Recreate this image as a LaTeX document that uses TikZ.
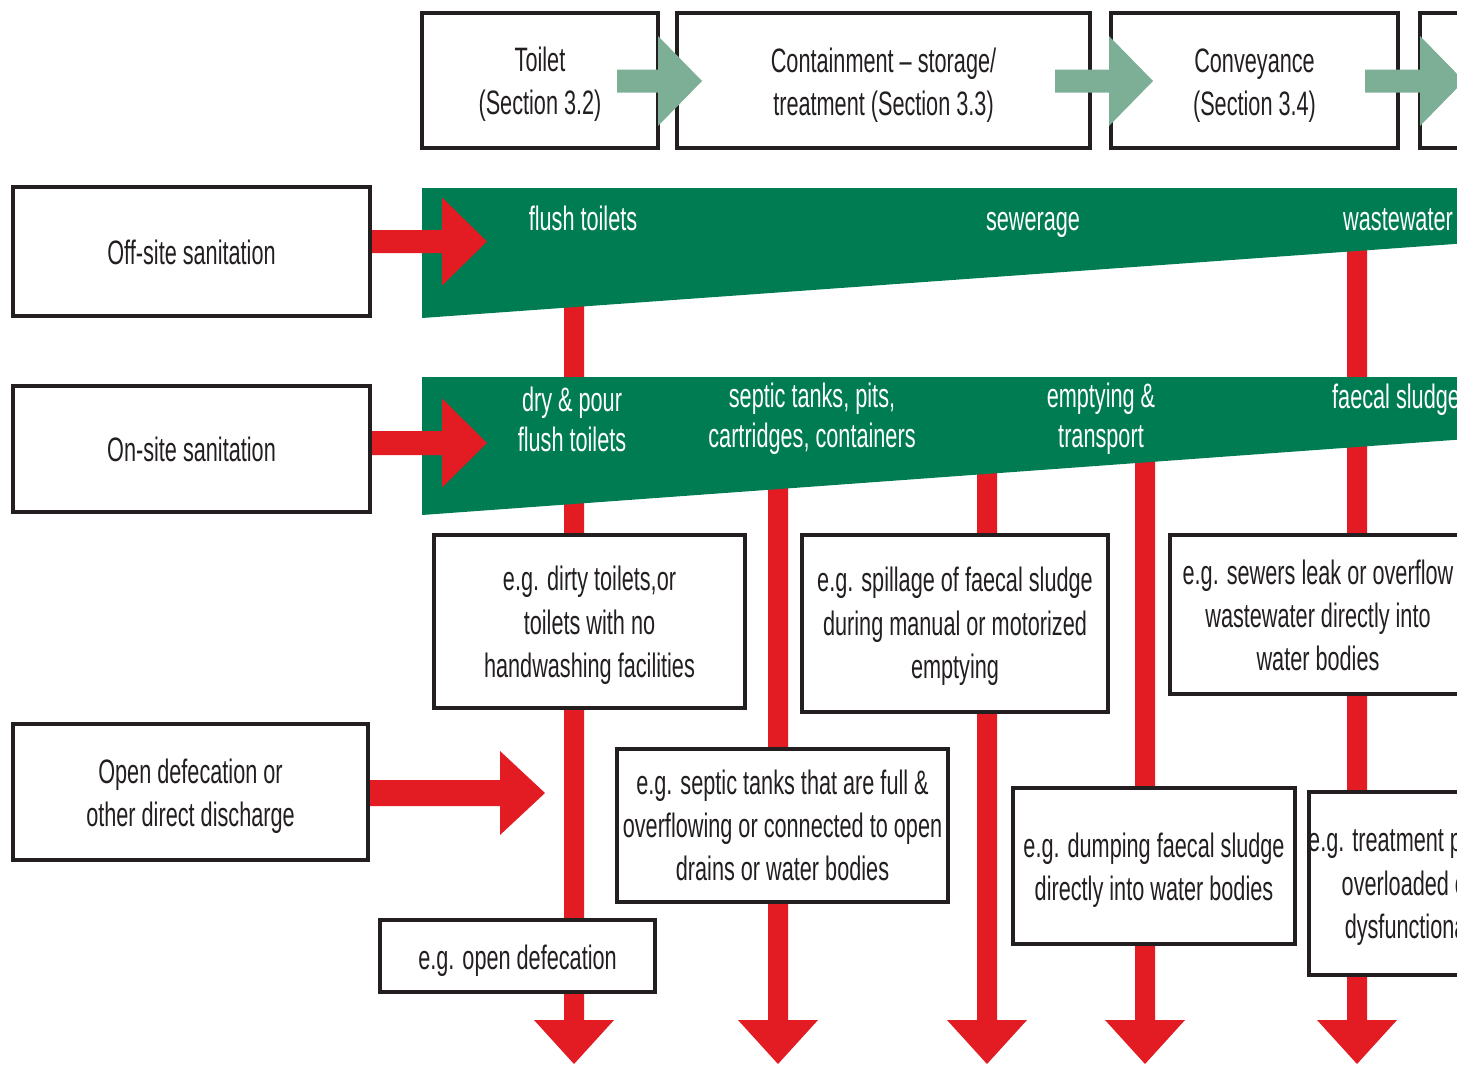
\documentclass[tikz,border=0pt]{standalone}
\usepackage{fontspec}
\setmainfont{Liberation Sans}[FakeStretch=0.64]
\usetikzlibrary{calc}
\definecolor{ink}{HTML}{231F20}
\definecolor{flowred}{HTML}{E31B23}
\definecolor{bandgreen}{HTML}{007C52}
\definecolor{stepgreen}{HTML}{7DAE96}

% block arrow pointing right: #1 tail, #2 tip (same height), #3 half shaft,
% #4 half head, #5 head length, #6 colour
\newcommand\rightflow[6]{%
  \fill[#6] ($(#1)+(0,-#3)$) -- ($(#2)+(-#5,-#3)$) -- ($(#2)+(-#5,-#4)$) -- (#2)
    -- ($(#2)+(-#5,#4)$) -- ($(#2)+(-#5,#3)$) -- ($(#1)+(0,#3)$) -- cycle;}
% block arrow pointing down: same arguments
\newcommand\downflow[6]{%
  \fill[#6] ($(#1)+(-#3,0)$) -- ($(#2)+(-#3,-#5)$) -- ($(#2)+(-#4,-#5)$) -- (#2)
    -- ($(#2)+(#4,-#5)$) -- ($(#2)+(#3,-#5)$) -- ($(#1)+(#3,0)$) -- cycle;}
% framed panel: #1 name, #2 centre, #3 width, #4 height, #5 text drop, #6 text
\newcommand\panel[6]{%
  \node[panelbox, minimum width=#3bp, minimum height=#4bp] (#1) at (#2) {};
  \node[lbl, yshift=-#5bp] (#1-text) at (#1.center) {#6};}

\begin{document}
\begin{tikzpicture}[x=1bp,y=-1bp,
  lbl/.style={font=\fontsize{34}{43.5}\selectfont, text=ink, align=center, inner sep=0pt},
  panelbox/.style={draw=ink, line width=4bp, fill=white, inner sep=0pt},
  bandlbl/.style={font=\fontsize{34}{40}\selectfont, text=white, align=center, inner sep=0pt}]

\useasboundingbox (0,0) rectangle (1457,1064);
\clip (0,0) rectangle (1457,1064);

% vertical flows down to the environment
\coordinate (v1s) at (574,300);  \coordinate (v1e) at (574,1064);
\coordinate (v2s) at (778,480);  \coordinate (v2e) at (778,1064);
\coordinate (v3s) at (987,465);  \coordinate (v3e) at (987,1064);
\coordinate (v4s) at (1145,455); \coordinate (v4e) at (1145,1064);
\coordinate (v5s) at (1357,245); \coordinate (v5e) at (1357,1064);
\downflow{v1s}{v1e}{10}{40}{44}{flowred}
\downflow{v2s}{v2e}{10}{40}{44}{flowred}
\downflow{v3s}{v3e}{10}{40}{44}{flowred}
\downflow{v4s}{v4e}{10}{40}{44}{flowred}
\downflow{v5s}{v5e}{10}{40}{44}{flowred}

% green bands of the sanitation chains
\fill[bandgreen] (422,188) -- (1460,188) -- (1460,243.6) -- (422,318) -- cycle;
\fill[bandgreen] (422,377) -- (1460,377) -- (1460,439.5) -- (422,515) -- cycle;

\node[bandlbl, anchor=base] (b1) at (583,230) {flush toilets};
\node[bandlbl, anchor=base] (b2) at (1033,230) {sewerage};
\node[bandlbl, anchor=base west] (b3) at (1343,230) {wastewater treatment};
\node[bandlbl] (c1) at (572,419) {dry \& pour\\flush toilets};
\node[bandlbl] (c2) at (812,419) {septic tanks, pits,\\cartridges, containers};
\node[bandlbl] (c3) at (1101,419) {emptying \&\\transport};
\node[bandlbl, anchor=base west] (c4) at (1332,408) {faecal sludge treatment};

% service chain steps
\panel{toilet}{540,80.5}{236}{135}{4}{Toilet\\(Section 3.2)}
\panel{contain}{883.5,80.5}{413}{135}{5}{Containment -- storage/\\treatment (Section 3.3)}
\panel{convey}{1254.5,80.5}{287}{135}{5}{Conveyance\\(Section 3.4)}
\node[panelbox, minimum width=140bp, minimum height=135bp] (treat) at (1490,80.5) {};

% sanitation types
\panel{offsite}{191.5,251.5}{357}{129}{1}{Off-site sanitation}
\panel{onsite}{191.5,449}{357}{126}{0}{On-site sanitation}
\panel{opendef}{190.5,792}{355}{136}{4}{Open defecation or\\other direct discharge}

% examples of unsafe practice
\panel{dirty}{589.5,621.5}{311}{173}{4}{e.g. dirty toilets,or\\toilets with no\\handwashing facilities}
\panel{spill}{955,623.5}{306}{177}{3}{e.g. spillage of faecal sludge\\during manual or motorized\\emptying}
\panel{leak}{1318,614.5}{296}{159}{1}{e.g. sewers leak or overflow\\wastewater directly into\\water bodies}
\panel{full}{782.5,825.5}{331}{153}{0}{e.g. septic tanks that are full \&\\overflowing or connected to open\\drains or water bodies}
\panel{dump}{1154,866}{282}{156}{4}{e.g. dumping faecal sludge\\directly into water bodies}
\panel{plant}{1408,883.5}{198}{183}{3}{e.g. treatment plants\\overloaded or\\dysfunctional}
\panel{odex}{517.5,956}{275}{72}{5}{e.g. open defecation}

% arrows between the chain steps
\coordinate (g1s) at (617,81);  \coordinate (g1e) at (702,81);
\coordinate (g2s) at (1055,81); \coordinate (g2e) at (1153,81);
\coordinate (g3s) at (1365,81); \coordinate (g3e) at (1464,81);
\rightflow{g1s}{g1e}{11.5}{45}{44}{stepgreen}
\rightflow{g2s}{g2e}{11.5}{45}{44}{stepgreen}
\rightflow{g3s}{g3e}{11.5}{45}{44}{stepgreen}

% arrows from the sanitation types into the chains
\coordinate (r1e) at (487,241.5);
\coordinate (r2e) at (487,443);
\coordinate (r3e) at (545,793);
\rightflow{offsite.east |- r1e}{r1e}{11.5}{44}{45}{flowred}
\rightflow{onsite.east |- r2e}{r2e}{12}{44.5}{45}{flowred}
\rightflow{opendef.east |- r3e}{r3e}{13}{42}{45}{flowred}

\end{tikzpicture}
\end{document}
